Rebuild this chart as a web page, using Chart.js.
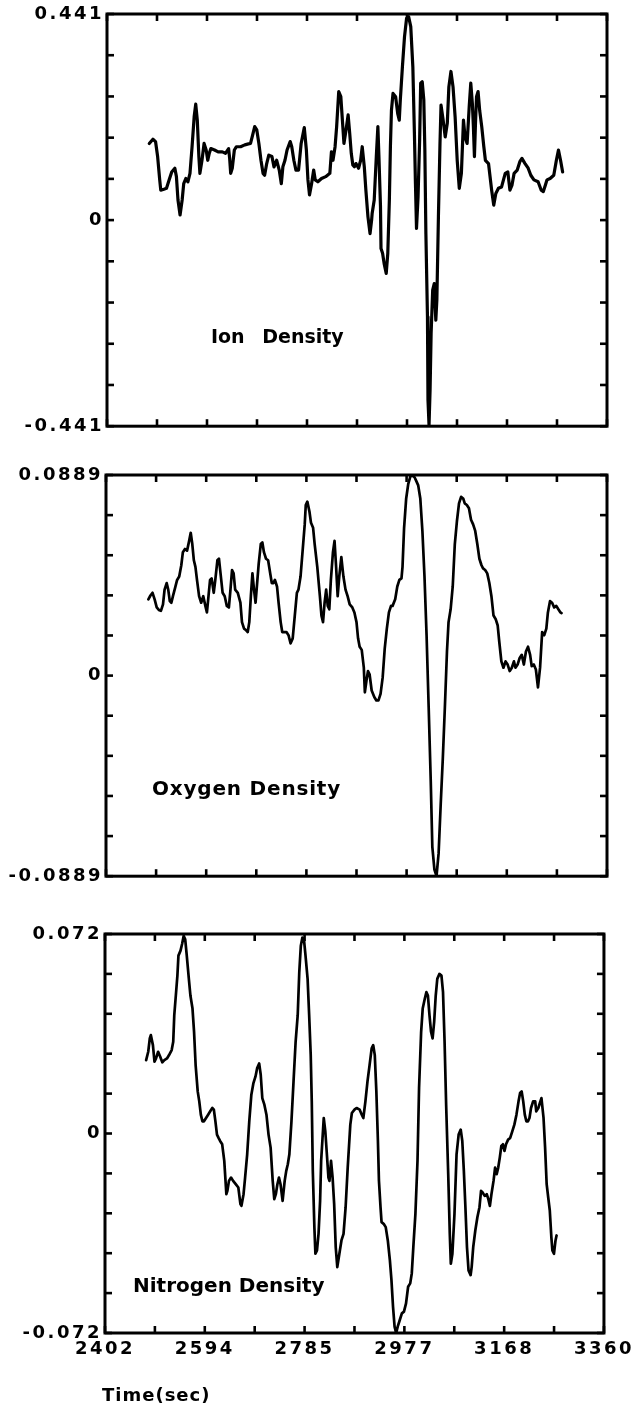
<!DOCTYPE html>
<html><head><meta charset="utf-8">
<script src="https://cdn.jsdelivr.net/npm/chart.js@4.4.1/dist/chart.umd.min.js"></script>
<style>
html,body{margin:0;padding:0;background:#fff;}
#wrap{position:relative;width:635px;height:1409px;background:#fff;overflow:hidden;}
canvas{position:absolute;left:0;}
</style></head><body>
<div id="wrap">
<canvas id="c1" width="635" height="440" style="top:0px"></canvas>
<canvas id="c2" width="635" height="450" style="top:440px"></canvas>
<canvas id="c3" width="635" height="519" style="top:890px"></canvas>
</div>
<script>
// ---- shared x axis (time, sec) ----
const xMin = 2402, xMax = 3360, xStep = 95.8;
const xTickLabels = ['2402','2594','2785','2977','3168','3360'];
const xTitle = 'Time(sec)';

// ---- Ion density ----
const ionTickLabels = ['-0.441','0','0.441'];
const ionTime = [2483,2490,2495,2499,2503,2505,2511,2516,2521,2526,2532,2535,2538,2542,2546,2549,2553,2557,2561,2565,2569,2572,2575,2578,2580,2584,2588,2592,2595,2598,2601,2608,2615,2623,2629,2635,2637,2639,2642,2646,2650,2658,2666,2673,2677,2681,2685,2689,2693,2697,2701,2704,2708,2712,2718,2722,2727,2732,2736,2739,2743,2747,2753,2756,2760,2764,2769,2774,2780,2784,2787,2790,2794,2798,2801,2806,2813,2821,2829,2832,2835,2839,2842,2846,2850,2853,2856,2860,2864,2867,2870,2873,2876,2879,2884,2888,2891,2895,2898,2902,2906,2909,2910,2914,2918,2921,2923,2926,2927,2930,2933,2937,2940,2943,2945,2947,2950,2955,2959,2962,2964,2968,2972,2976,2980,2984,2988,2991,2993,2995,2998,3001,3003,3006,3009,3011,3013,3016,3017,3019,3021,3023,3026,3029,3032,3034,3037,3040,3042,3046,3050,3054,3057,3061,3065,3069,3073,3077,3081,3085,3088,3092,3096,3099,3102,3104,3106,3108,3110,3113,3116,3120,3124,3127,3133,3139,3143,3147,3152,3158,3165,3170,3174,3178,3182,3188,3193,3197,3203,3209,3214,3220,3228,3234,3238,3242,3245,3251,3258,3263,3267,3271,3275];
const ionValue = [0.164,0.173,0.168,0.136,0.086,0.064,0.066,0.068,0.086,0.103,0.111,0.093,0.043,0.011,0.043,0.078,0.089,0.082,0.100,0.157,0.221,0.248,0.214,0.136,0.100,0.128,0.164,0.150,0.128,0.143,0.153,0.150,0.146,0.146,0.143,0.153,0.132,0.100,0.111,0.150,0.157,0.157,0.161,0.163,0.164,0.182,0.200,0.193,0.164,0.128,0.100,0.096,0.121,0.139,0.136,0.114,0.128,0.107,0.078,0.114,0.128,0.150,0.168,0.157,0.128,0.107,0.107,0.164,0.198,0.150,0.086,0.054,0.078,0.107,0.086,0.082,0.089,0.093,0.100,0.146,0.128,0.157,0.200,0.275,0.264,0.214,0.164,0.193,0.225,0.186,0.143,0.118,0.114,0.121,0.111,0.128,0.157,0.114,0.064,0.007,-0.029,0,0.014,0.043,0.136,0.200,0.136,0.029,-0.061,-0.071,-0.093,-0.114,-0.071,0.043,0.157,0.235,0.271,0.264,0.228,0.214,0.257,0.328,0.392,0.432,0.435,0.414,0.328,0.186,0.078,-0.018,0.050,0.171,0.293,0.296,0.257,0.150,-0.029,-0.207,-0.385,-0.439,-0.364,-0.243,-0.150,-0.136,-0.214,-0.171,0.007,0.164,0.246,0.214,0.178,0.207,0.285,0.318,0.285,0.221,0.128,0.068,0.100,0.214,0.178,0.164,0.243,0.293,0.250,0.200,0.136,0.207,0.264,0.275,0.235,0.200,0.157,0.128,0.121,0.064,0.032,0.057,0.068,0.071,0.100,0.103,0.064,0.075,0.100,0.107,0.125,0.132,0.121,0.111,0.096,0.086,0.082,0.064,0.061,0.075,0.086,0.089,0.096,0.128,0.150,0.128,0.103];

// ---- Oxygen density ----
const oxyTickLabels = ['-0.0889','0','0.0889'];
const oxyTime = [2483,2487,2491,2495,2499,2503,2507,2511,2514,2518,2521,2524,2527,2530,2534,2538,2542,2546,2549,2553,2557,2561,2564,2567,2570,2573,2576,2580,2584,2588,2592,2595,2598,2601,2604,2608,2611,2615,2618,2621,2625,2629,2633,2637,2640,2643,2646,2649,2654,2659,2662,2666,2670,2673,2676,2679,2682,2685,2688,2691,2694,2698,2701,2704,2708,2712,2716,2719,2722,2725,2729,2732,2736,2739,2743,2747,2751,2755,2759,2763,2767,2770,2774,2778,2782,2784,2787,2791,2794,2798,2801,2806,2811,2814,2817,2820,2823,2826,2829,2832,2836,2839,2842,2845,2848,2852,2856,2860,2864,2868,2873,2877,2881,2884,2887,2891,2895,2897,2900,2903,2906,2910,2915,2919,2923,2927,2931,2935,2939,2943,2947,2950,2955,2959,2963,2967,2969,2972,2976,2980,2984,2988,2992,2995,2999,3003,3007,3011,3015,3019,3023,3026,3030,3034,3038,3042,3046,3050,3054,3057,3061,3065,3069,3073,3077,3081,3085,3088,3092,3096,3100,3104,3108,3112,3116,3120,3123,3127,3131,3135,3139,3143,3147,3151,3154,3158,3162,3166,3170,3174,3178,3182,3185,3189,3193,3197,3201,3205,3209,3213,3216,3220,3224,3228,3232,3236,3240,3244,3247,3251,3255,3259,3263,3267,3271,3273];
const oxyValue = [0.0338,0.0355,0.0367,0.0338,0.0302,0.0291,0.0287,0.0316,0.0381,0.0410,0.0381,0.0330,0.0323,0.0352,0.0388,0.0424,0.0439,0.0489,0.0547,0.0561,0.0554,0.0597,0.0633,0.0583,0.0511,0.0482,0.0424,0.0352,0.0323,0.0352,0.0309,0.0280,0.0352,0.0424,0.0431,0.0367,0.0424,0.0511,0.0518,0.0453,0.0367,0.0352,0.0309,0.0302,0.0381,0.0468,0.0453,0.0381,0.0367,0.0323,0.0237,0.0208,0.0201,0.0193,0.0237,0.0352,0.0453,0.0381,0.0323,0.0410,0.0496,0.0583,0.0590,0.0547,0.0518,0.0511,0.0453,0.0410,0.0410,0.0424,0.0395,0.0323,0.0237,0.0193,0.0193,0.0193,0.0179,0.0143,0.0165,0.0266,0.0367,0.0381,0.0439,0.0554,0.0670,0.0756,0.0771,0.0727,0.0677,0.0655,0.0583,0.0482,0.0352,0.0266,0.0237,0.0323,0.0381,0.0309,0.0294,0.0424,0.0547,0.0597,0.0482,0.0352,0.0439,0.0525,0.0439,0.0381,0.0352,0.0316,0.0302,0.0280,0.0237,0.0165,0.0128,0.0114,0.0035,-0.0074,-0.0023,0.0020,0.0006,-0.0066,-0.0095,-0.0110,-0.0110,-0.0081,-0.0009,0.0121,0.0208,0.0280,0.0309,0.0309,0.0338,0.0395,0.0424,0.0431,0.0482,0.0655,0.0785,0.0850,0.0883,0.0886,0.0879,0.0864,0.0843,0.0785,0.0641,0.0439,0.0179,-0.0139,-0.0470,-0.0759,-0.0860,-0.0889,-0.0788,-0.0571,-0.0369,-0.0139,0.0107,0.0237,0.0294,0.0395,0.0583,0.0684,0.0763,0.0792,0.0785,0.0763,0.0756,0.0742,0.0691,0.0670,0.0641,0.0583,0.0518,0.0489,0.0475,0.0468,0.0453,0.0410,0.0352,0.0266,0.0251,0.0222,0.0150,0.0063,0.0035,0.0063,0.0049,0.0020,0.0035,0.0063,0.0035,0.0049,0.0078,0.0092,0.0049,0.0107,0.0128,0.0092,0.0042,0.0049,0.0027,-0.0052,0.0035,0.0193,0.0179,0.0208,0.0280,0.0330,0.0323,0.0302,0.0309,0.0294,0.0280,0.0277];

// ---- Nitrogen density ----
const nitTickLabels = ['-0.072','0','0.072'];
const nitTime = [2481,2485,2488,2490,2494,2497,2500,2504,2508,2512,2516,2521,2525,2530,2533,2535,2538,2541,2543,2547,2550,2553,2556,2559,2563,2566,2570,2573,2576,2580,2583,2586,2589,2592,2596,2600,2604,2608,2611,2614,2617,2620,2623,2627,2631,2635,2637,2640,2644,2648,2653,2658,2662,2664,2668,2671,2675,2679,2683,2687,2691,2694,2698,2701,2704,2708,2712,2716,2720,2724,2727,2730,2733,2736,2739,2743,2747,2750,2753,2756,2760,2764,2768,2772,2775,2778,2781,2784,2787,2791,2794,2797,2799,2801,2804,2806,2809,2812,2815,2817,2822,2825,2828,2831,2833,2836,2839,2842,2845,2848,2852,2856,2860,2864,2868,2873,2876,2881,2885,2891,2895,2898,2902,2906,2910,2914,2917,2920,2923,2926,2928,2931,2933,2937,2941,2945,2949,2952,2955,2958,2961,2964,2968,2972,2976,2980,2984,2988,2991,2994,2998,3002,3005,3009,3012,3016,3019,3022,3025,3028,3031,3034,3037,3040,3044,3048,3051,3054,3057,3061,3064,3066,3069,3073,3077,3081,3085,3088,3091,3094,3097,3100,3104,3106,3109,3113,3117,3121,3124,3127,3131,3135,3138,3141,3144,3148,3151,3154,3157,3160,3163,3166,3169,3172,3176,3180,3184,3188,3192,3196,3199,3202,3205,3208,3211,3214,3217,3220,3224,3228,3230,3234,3237,3240,3244,3247,3250,3253,3256,3259,3261,3264,3267,3269];
const nitValue = [0.0265,0.0295,0.0343,0.0355,0.0319,0.0259,0.0271,0.0295,0.0277,0.0257,0.0265,0.0271,0.0283,0.0301,0.0331,0.0427,0.0498,0.0570,0.0642,0.0660,0.0684,0.0713,0.0701,0.0642,0.0558,0.0498,0.0451,0.0367,0.0247,0.0152,0.0116,0.0068,0.0044,0.0044,0.0056,0.0068,0.0080,0.0092,0.0086,0.0044,-0.0004,-0.0016,-0.0027,-0.0039,-0.0099,-0.0219,-0.0207,-0.0171,-0.0159,-0.0171,-0.0183,-0.0195,-0.0255,-0.0261,-0.0219,-0.0159,-0.0075,0.0044,0.0140,0.0182,0.0206,0.0235,0.0253,0.0212,0.0128,0.0104,0.0068,-0.0004,-0.0051,-0.0171,-0.0237,-0.0219,-0.0183,-0.0159,-0.0183,-0.0243,-0.0171,-0.0135,-0.0111,-0.0075,0.0044,0.0188,0.0331,0.0427,0.0582,0.0678,0.0707,0.0701,0.0642,0.0558,0.0427,0.0283,0.0116,-0.0135,-0.0338,-0.0434,-0.0422,-0.0362,-0.0243,-0.0099,0.0056,0.0008,-0.0075,-0.0159,-0.0171,-0.0099,-0.0159,-0.0255,-0.0410,-0.0482,-0.0434,-0.0386,-0.0362,-0.0266,-0.0123,0.0032,0.0074,0.0086,0.0092,0.0086,0.0068,0.0056,0.0116,0.0188,0.0247,0.0307,0.0319,0.0283,0.0152,-0.0027,-0.0171,-0.0266,-0.0320,-0.0326,-0.0338,-0.0386,-0.0458,-0.0529,-0.0625,-0.0697,-0.0720,-0.0697,-0.0673,-0.0649,-0.0643,-0.0613,-0.0553,-0.0541,-0.0505,-0.0410,-0.0290,-0.0099,0.0164,0.0367,0.0451,0.0486,0.0510,0.0498,0.0427,0.0367,0.0343,0.0403,0.0498,0.0558,0.0576,0.0570,0.0510,0.0331,0.0104,-0.0147,-0.0362,-0.0470,-0.0434,-0.0290,-0.0075,-0.0004,0.0014,-0.0027,-0.0135,-0.0266,-0.0410,-0.0494,-0.0511,-0.0482,-0.0410,-0.0350,-0.0302,-0.0266,-0.0207,-0.0213,-0.0225,-0.0219,-0.0237,-0.0261,-0.0219,-0.0171,-0.0123,-0.0147,-0.0123,-0.0087,-0.0045,-0.0039,-0.0063,-0.0039,-0.0022,-0.0016,0.0008,0.0032,0.0068,0.0116,0.0146,0.0152,0.0116,0.0068,0.0044,0.0044,0.0056,0.0092,0.0116,0.0116,0.0080,0.0092,0.0110,0.0128,0.0056,-0.0051,-0.0183,-0.0231,-0.0278,-0.0374,-0.0422,-0.0434,-0.0386,-0.0368];

const FONT = 'DejaVu Sans';

const framePlugin = {
  id: 'panelFrame',
  beforeDraw(chart) { chart.ctx.letterSpacing = '2.5px'; },
  afterDatasetsDraw(chart, args, opts) {
    const ctx = chart.ctx, a = chart.chartArea, xs = chart.scales.x, ys = chart.scales.y;
    ctx.save();
    ctx.strokeStyle = '#000';
    ctx.lineCap = 'butt';
    ctx.lineWidth = 2.6;
    const seg = (x1, y1, x2, y2) => { ctx.beginPath(); ctx.moveTo(x1, y1); ctx.lineTo(x2, y2); ctx.stroke(); };
    xs.ticks.forEach(t => { const px = xs.getPixelForValue(t.value); seg(px, a.top, px, a.top + 7); seg(px, a.bottom, px, a.bottom - 7); });
    ys.ticks.forEach(t => { const py = ys.getPixelForValue(t.value); seg(a.left, py, a.left + 7, py); seg(a.right, py, a.right - 7, py); });
    ctx.lineWidth = 3;
    ctx.strokeRect(a.left, a.top, a.right - a.left, a.bottom - a.top);
    ctx.fillStyle = '#000';
    ctx.textBaseline = 'alphabetic';
    ctx.textAlign = 'left';
    ctx.font = 'bold ' + opts.size + 'px "' + FONT + '"';
    ctx.letterSpacing = (opts.letterSpacing || 0) + 'px';
    ctx.wordSpacing = (opts.wordSpacing || 0) + 'px';
    ctx.fillText(opts.label, a.left + opts.dx, a.bottom - opts.dy);
    if (opts.title) {
      ctx.font = 'bold 18px "' + FONT + '"';
      ctx.letterSpacing = '1px';
      ctx.wordSpacing = '0px';
      ctx.fillText(opts.title, a.left - 3, a.bottom + 68);
    }
    ctx.restore();
  }
};

function panel(canvasId, times, values, tickLabels, p) {
  const pts = times.map((t, i) => ({ x: t, y: values[i] }));
  const tickFont = { family: FONT, weight: 'bold', size: 18 };
  return new Chart(document.getElementById(canvasId), {
    type: 'line',
    data: { datasets: [{ data: pts, borderColor: '#000', borderWidth: p.lineWidth, pointRadius: 0, tension: 0, fill: false, borderJoinStyle: 'round', borderCapStyle: 'round' }] },
    options: {
      responsive: false, animation: false, devicePixelRatio: 1,
      layout: { autoPadding: false, padding: { left: 0, right: 635 - p.right, top: p.top, bottom: p.padBottom } },
      plugins: {
        legend: { display: false }, tooltip: { enabled: false },
        panelFrame: { label: p.label, dx: p.dx, dy: p.dy, size: p.size, letterSpacing: p.ls, wordSpacing: p.ws, title: p.showX ? xTitle : null }
      },
      scales: {
        x: {
          type: 'linear', min: xMin, max: xMax,
          grid: { display: false, drawTicks: false }, border: { display: false },
          ticks: { stepSize: xStep, display: p.showX, autoSkip: false, maxRotation: 0, padding: 6, color: '#000', font: tickFont,
                   callback: (v, i) => (i % 2 === 0 ? xTickLabels[i / 2] : '') },
          afterFit: (s) => { s.height = p.xHeight; }
        },
        y: {
          type: 'linear', min: -p.yMax, max: p.yMax,
          grid: { display: false, drawTicks: false }, border: { display: false },
          ticks: { stepSize: p.yMax / 5, autoSkip: false, padding: 3, color: '#000', font: tickFont,
                   callback: (v, i) => (i % 5 === 0 ? tickLabels[i / 5] : '') },
          afterFit: (s) => { s.width = p.left; }
        }
      }
    },
    plugins: [framePlugin]
  });
}

panel('c1', ionTime, ionValue, ionTickLabels, { yMax: 0.441, left: 107, right: 607, top: 14, padBottom: 12, xHeight: 0, showX: false, lineWidth: 3.2, label: 'Ion Density', dx: 104, dy: 83, size: 19, ls: 0, ws: 11 });
panel('c2', oxyTime, oxyValue, oxyTickLabels, { yMax: 0.0889, left: 106, right: 607, top: 35, padBottom: 2, xHeight: 0, showX: false, lineWidth: 2.7, label: 'Oxygen Density', dx: 46, dy: 81, size: 20, ls: 0.8, ws: 0 });
panel('c3', nitTime, nitValue, nitTickLabels, { yMax: 0.072, left: 105, right: 604, top: 44, padBottom: 0, xHeight: 76, showX: true, lineWidth: 2.7, label: 'Nitrogen Density', dx: 28, dy: 41, size: 20, ls: 0, ws: 0 });
</script>
</body></html>
